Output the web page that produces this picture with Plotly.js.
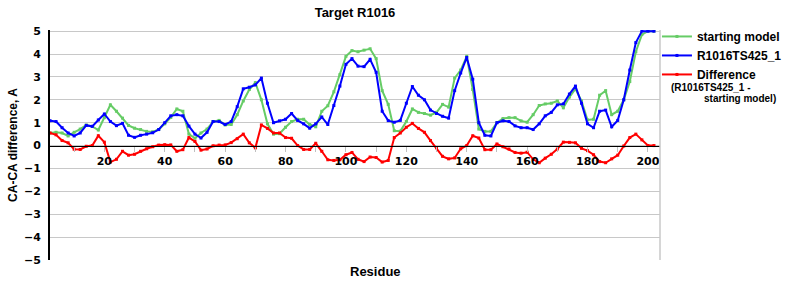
<!DOCTYPE html>
<html>
<head>
<meta charset="utf-8">
<script src="https://cdn.plot.ly/plotly-3.0.1.min.js"></script>
<style>html,body{margin:0;padding:0;background:#fff;}#chart{width:800px;height:300px;}</style>
</head>
<body>
<div id="chart"></div>
<script>
const residues = [2,4,6,8,10,12,14,16,18,20,
  22,24,26,28,30,32,34,36,38,40,
  42,44,46,48,50,52,54,56,58,60,
  62,64,66,68,70,72,74,76,78,80,
  82,84,86,88,90,92,94,96,98,100,
  102,104,106,108,110,112,114,116,118,120,
  122,124,126,128,130,132,134,136,138,140,
  142,144,146,148,150,152,154,156,158,160,
  162,164,166,168,170,172,174,176,178,180,
  182,184,186,188,190,192,194,196,198,200,
  202];

const startingModel = [0.55,0.58,0.55,0.42,0.58,0.72,0.9,0.84,0.68,1.22,
  1.78,1.5,1.2,0.88,0.76,0.7,0.62,0.6,0.7,0.95,
  1.23,1.6,1.5,0.5,0.32,0.55,0.72,1.05,1.1,0.9,
  0.92,1.35,1.95,2.45,2.75,2.0,0.95,0.5,0.52,0.8,
  1.05,1.15,1.15,0.92,0.82,1.5,1.74,2.35,3.1,3.9,
  4.15,4.1,4.17,4.23,3.8,2.4,1.8,0.65,0.63,1.05,
  1.6,1.45,1.4,1.33,1.45,1.8,1.68,2.95,3.3,3.9,
  2.45,0.72,0.62,0.62,1.0,1.18,1.22,1.22,1.08,1.02,
  1.35,1.75,1.82,1.85,1.95,1.65,2.12,2.48,1.95,1.12,
  1.15,2.2,2.4,1.35,1.5,2.0,2.8,4.1,4.85,5.0,
  5.0];

const model425 = [1.09,1.05,0.78,0.55,0.42,0.55,0.88,0.84,1.12,1.38,
  1.05,0.87,0.97,0.45,0.36,0.45,0.5,0.56,0.7,1.0,
  1.3,1.35,1.3,0.85,0.5,0.33,0.58,1.05,1.05,0.92,
  1.05,1.7,2.48,2.55,2.65,2.95,1.85,1.0,1.08,1.15,
  1.4,1.1,0.95,0.76,0.95,1.25,0.92,1.75,2.6,3.55,
  3.8,3.47,3.45,3.77,3.2,1.5,1.09,1.02,1.1,1.85,
  2.58,2.2,2.0,1.55,1.4,1.28,1.2,2.4,3.17,3.85,
  2.9,1.0,0.45,0.42,1.0,1.08,1.05,0.86,0.78,0.78,
  0.7,0.95,1.3,1.45,1.78,1.82,2.25,2.6,1.85,0.95,
  0.78,1.5,1.55,0.82,1.1,2.0,3.3,4.5,5.0,5.0,
  5.0];

const difference = [0.55,0.47,0.22,0.12,-0.16,-0.17,-0.03,0.0,0.43,0.15,
  -0.72,-0.6,-0.25,-0.42,-0.38,-0.25,-0.14,-0.05,0.02,0.04,
  0.03,-0.25,-0.18,0.35,0.18,-0.2,-0.15,-0.01,0.02,0.03,
  0.13,0.3,0.5,0.12,-0.1,0.9,0.75,0.55,0.55,0.35,
  0.32,0.0,-0.17,-0.17,0.1,-0.25,-0.62,-0.65,-0.62,-0.4,
  -0.3,-0.6,-0.7,-0.5,-0.52,-0.72,-0.65,0.35,0.55,0.8,
  0.97,0.75,0.58,0.22,-0.1,-0.47,-0.58,-0.54,-0.14,0.0,
  0.43,0.33,-0.18,-0.18,0.07,-0.05,-0.15,-0.3,-0.33,-0.29,
  -0.6,-0.75,-0.55,-0.38,-0.15,0.15,0.14,0.12,-0.12,-0.22,
  -0.4,-0.7,-0.75,-0.58,-0.42,-0.02,0.35,0.5,0.25,0.0,
  0.0];

const xTickVals = [10,20,30,40,50,60,70,80,90,100,110,120,130,140,150,160,170,180,190,200];
const xTickText = ['','20','','40','','60','','80','','100','','120','','140','','160','','180','','200'];
const yTickVals = [-5,-4,-3,-2,-1,0,1,2,3,4,5];

const yMin = -5, yMax = 5.05;
const boldArial = {family: 'Liberation Sans, Arial, sans-serif', size: 12, color: '#000', weight: 'bold'};
const tickFont = {family: 'DejaVu Sans, Verdana, sans-serif', size: 11, color: '#000', weight: 'bold'};
const smallBold = {family: 'Liberation Sans, Arial, sans-serif', size: 10, color: '#000', weight: 'bold'};

const traces = [
  {x: residues, y: startingModel, name: 'starting model', type: 'scatter', mode: 'lines+markers',
   line: {color: '#66CC66', width: 2}, marker: {color: '#66CC66', size: 3, symbol: 'square'}},
  {x: residues, y: model425, name: 'R1016TS425_1', type: 'scatter', mode: 'lines+markers',
   line: {color: '#0000FF', width: 2}, marker: {color: '#0000FF', size: 3, symbol: 'square'}},
  {x: residues, y: difference, name: 'Difference', type: 'scatter', mode: 'lines+markers',
   line: {color: '#FF0000', width: 2}, marker: {color: '#FF0000', size: 3, symbol: 'square'}}
];

const layout = {
  width: 800, height: 300,
  margin: {l: 50, r: 140, t: 30, b: 40},
  paper_bgcolor: '#fff', plot_bgcolor: '#fff',
  showlegend: true,
  title: {text: 'Target R1016', font: Object.assign({}, boldArial, {size: 13}), x: 0.5, xref: 'paper', y: 0.96, yref: 'container', yanchor: 'middle'},
  xaxis: {
    range: [2, 204], tickmode: 'array', tickvals: xTickVals, ticktext: xTickText,
    ticks: 'outside', ticklen: 5, tickcolor: '#c0c0c0', tickwidth: 1,
    showgrid: false, zeroline: false,
    showline: true, linecolor: '#000', linewidth: 1.5,
    anchor: 'free', position: (0 - yMin) / (yMax - yMin),
    tickfont: tickFont
  },
  yaxis: {
    range: [yMin, yMax], tickmode: 'array', tickvals: yTickVals,
    ticks: '', showgrid: true, gridcolor: '#c8c8c8', gridwidth: 1,
    zeroline: false, showline: true, linecolor: '#000', linewidth: 2,
    tickfont: tickFont, ticklabelstandoff: 5,
    title: {text: 'CA-CA difference, A', font: boldArial, standoff: 4}
  },
  legend: {
    x: 0.995, xanchor: 'left', y: 1.035, yanchor: 'top',
    font: boldArial, bgcolor: 'rgba(0,0,0,0)', tracegroupgap: 0, itemwidth: 30
  },
  shapes: [
    {type: 'line', xref: 'paper', yref: 'paper', x0: 1, x1: 1, y0: 0, y1: 1, line: {color: '#c8c8c8', width: 1.5}}
  ],
  annotations: [
    {text: 'Residue', xref: 'paper', yref: 'paper', x: 0.534, y: -0.048, xanchor: 'center', yanchor: 'middle', showarrow: false, font: Object.assign({}, boldArial, {size: 13})},
    {text: '(R1016TS425_1 -', xref: 'paper', yref: 'paper', x: 1.0148, y: 0.752, xanchor: 'left', yanchor: 'middle', showarrow: false, font: smallBold},
    {text: 'starting model)', xref: 'paper', yref: 'paper', x: 1.0689, y: 0.704, xanchor: 'left', yanchor: 'middle', showarrow: false, font: smallBold}
  ]
};

Plotly.newPlot('chart', traces, layout, {displayModeBar: false, staticPlot: true});
</script>
</body>
</html>
